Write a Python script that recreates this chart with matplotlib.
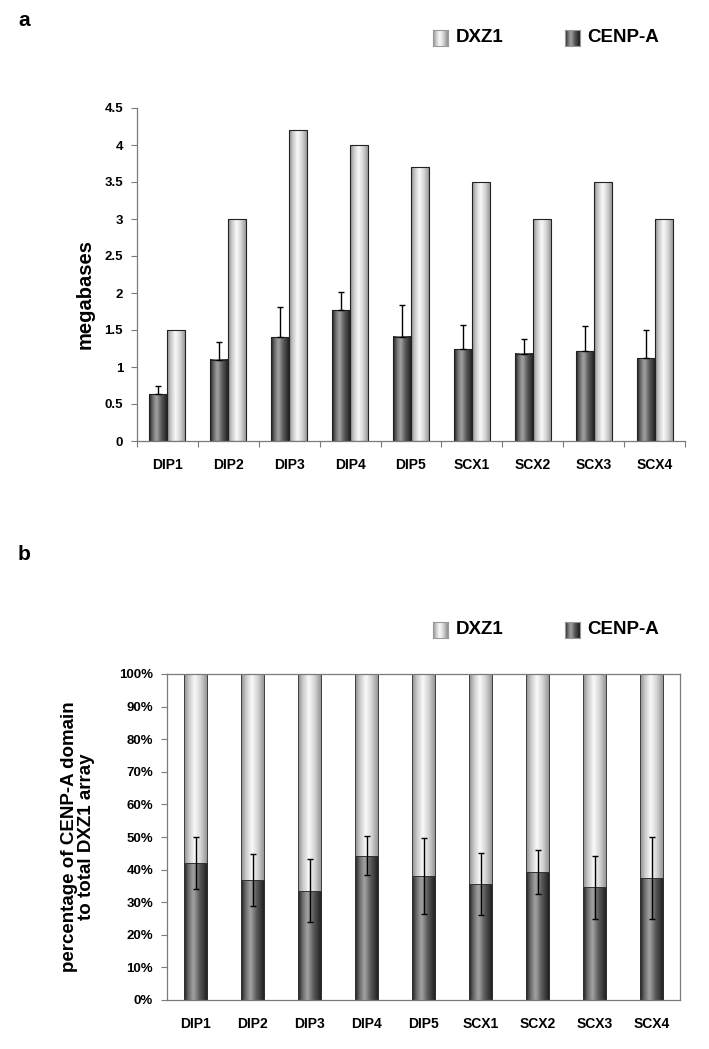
import matplotlib
matplotlib.use("Agg")
import matplotlib.pyplot as plt
from matplotlib.colors import LinearSegmentedColormap
from matplotlib.ticker import PercentFormatter
import numpy as np

plt.rcParams['font.family'] = ['Liberation Sans', 'DejaVu Sans']
plt.rcParams['font.weight'] = 'bold'

samples = ["DIP1", "DIP2", "DIP3", "DIP4", "DIP5", "SCX1", "SCX2", "SCX3", "SCX4"]

# panel a: megabases
dxz1_mb = [1.5, 3.0, 4.2, 4.0, 3.7, 3.5, 3.0, 3.5, 3.0]
cenpa_mb = [0.63, 1.10, 1.40, 1.77, 1.41, 1.24, 1.18, 1.21, 1.12]
cenpa_mb_err = [0.12, 0.24, 0.41, 0.24, 0.43, 0.33, 0.20, 0.34, 0.38]

# panel b: percentage of CENP-A domain to total DXZ1 array
cenpa_pct = [42.0, 36.8, 33.5, 44.3, 38.0, 35.5, 39.3, 34.6, 37.3]
cenpa_pct_err = [8.0, 8.0, 9.7, 6.0, 11.7, 9.5, 6.7, 9.7, 12.6]

# cylinder-like shading
light_cmap = LinearSegmentedColormap.from_list(
    "light", [(0, "#8a8a8a"), (0.2, "#c8c8c8"), (0.45, "#fafafa"), (0.7, "#d4d4d4"), (1, "#8c8c8c")])
dark_cmap = LinearSegmentedColormap.from_list(
    "dark", [(0, "#1c1c1c"), (0.2, "#6e6e6e"), (0.4, "#a4a4a4"), (0.65, "#5a5a5a"), (1, "#1a1a1a")])

GRAD = np.linspace(0, 1, 256).reshape(1, -1)
AXIS_GREY = "#7a7a7a"


def shade_bars(ax, bars, cmap):
    for b in bars:
        x0, y0 = b.get_x(), b.get_y()
        w, h = b.get_width(), b.get_height()
        ax.imshow(GRAD, cmap=cmap, aspect='auto', extent=(x0, x0 + w, y0, y0 + h),
                  origin='lower', interpolation='bicubic', zorder=1.5)


def legend_row(fig, y_px):
    W, H = fig.get_size_inches() * fig.dpi
    items = [("DXZ1", light_cmap, 433, 456), ("CENP-A", dark_cmap, 565, 587)]
    for label, cmap, px, tx in items:
        kax = fig.add_axes([px / W, 1 - (y_px + 8) / H, 15 / W, 16 / H])
        kax.imshow(GRAD, cmap=cmap, aspect='auto', interpolation='bicubic')
        kax.set_xticks([])
        kax.set_yticks([])
        for s in kax.spines.values():
            s.set_color("#9a9a9a")
            s.set_linewidth(0.8)
        fig.text(tx / W, 1 - y_px / H, label, fontsize=13.5, fontweight='bold', va='center', ha='left')


fig = plt.figure(figsize=(7.09, 10.49), dpi=100)
W, H = 709, 1049
x = np.arange(len(samples))

# ---------------- panel a ----------------
ax1 = fig.add_axes([137 / W, 1 - 441 / H, 548 / W, 333 / H])
bw = 0.296
b_dark = ax1.bar(x - bw / 2, cenpa_mb, bw, facecolor='none', edgecolor='#222222', linewidth=0.8, zorder=2)
b_light = ax1.bar(x + bw / 2, dxz1_mb, bw, facecolor='none', edgecolor='#222222', linewidth=0.8, zorder=2)
shade_bars(ax1, b_dark, dark_cmap)
shade_bars(ax1, b_light, light_cmap)
ax1.errorbar(x - bw / 2, cenpa_mb, yerr=[np.zeros(len(x)), cenpa_mb_err], fmt='none',
             ecolor='black', elinewidth=1.0, capsize=2, capthick=1.0, zorder=3)
ax1.set_xlim(-0.5, len(samples) - 0.5)
ax1.set_ylim(0, 4.5)
ax1.set_yticks(np.arange(0, 4.51, 0.5))
ax1.set_yticklabels(["0", "0.5", "1", "1.5", "2", "2.5", "3", "3.5", "4", "4.5"])
ax1.set_xticks(np.arange(-0.5, len(samples), 1.0))
ax1.set_xticklabels([])
ax1.set_xticks(x, minor=True)
ax1.set_xticklabels(samples, minor=True)
ax1.tick_params(axis='x', which='minor', length=0, pad=12, labelsize=10)
ax1.tick_params(axis='x', which='major', length=4, color=AXIS_GREY, direction='out')
ax1.tick_params(axis='y', length=4, color=AXIS_GREY, direction='out', labelsize=9.5, pad=6)
for s in ["top", "right"]:
    ax1.spines[s].set_visible(False)
for s in ["left", "bottom"]:
    ax1.spines[s].set_color(AXIS_GREY)
    ax1.spines[s].set_linewidth(0.9)
ax1.set_ylabel("megabases", fontsize=14.5, fontweight='bold')
ax1.yaxis.set_label_coords(-0.078, 0.44)
for lab in ax1.get_xticklabels(minor=True) + ax1.get_yticklabels():
    lab.set_fontweight('bold')

fig.text(18 / W, 1 - 20 / H, "a", fontsize=15, fontweight='bold', va='center')
legend_row(fig, 38)

# ---------------- panel b ----------------
ax2 = fig.add_axes([167 / W, 1 - 1000 / H, 513 / W, 326 / H])
bw2 = 0.42
rest = [100 - v for v in cenpa_pct]
s_dark = ax2.bar(x, cenpa_pct, bw2, facecolor='none', edgecolor='#333333', linewidth=0.6, zorder=2)
s_light = ax2.bar(x, rest, bw2, bottom=cenpa_pct, facecolor='none', edgecolor='#333333', linewidth=0.6, zorder=2)
shade_bars(ax2, s_dark, dark_cmap)
shade_bars(ax2, s_light, light_cmap)
ax2.errorbar(x, cenpa_pct, yerr=cenpa_pct_err, fmt='none', ecolor='black',
             elinewidth=1.0, capsize=2, capthick=1.0, zorder=3)
ax2.set_xlim(-0.5, len(samples) - 0.5)
ax2.set_ylim(0, 100)
ax2.set_yticks(np.arange(0, 101, 10))
ax2.yaxis.set_major_formatter(PercentFormatter(decimals=0))
ax2.set_xticks(x)
ax2.set_xticklabels(samples)
ax2.tick_params(axis='x', length=0, pad=12, labelsize=10)
ax2.tick_params(axis='y', length=4, color=AXIS_GREY, direction='out', labelsize=9.5, pad=6)
for s in ax2.spines.values():
    s.set_color(AXIS_GREY)
    s.set_linewidth(0.9)
ax2.set_ylabel("percentage of CENP-A domain\nto total DXZ1 array", fontsize=13.5,
               fontweight='bold', linespacing=1.0)
ax2.yaxis.set_label_coords(-0.14, 0.5)
for lab in ax2.get_xticklabels() + ax2.get_yticklabels():
    lab.set_fontweight('bold')

fig.text(18 / W, 1 - 555 / H, "b", fontsize=15, fontweight='bold', va='center')
legend_row(fig, 630)

fig.savefig("out.png", dpi=100)
